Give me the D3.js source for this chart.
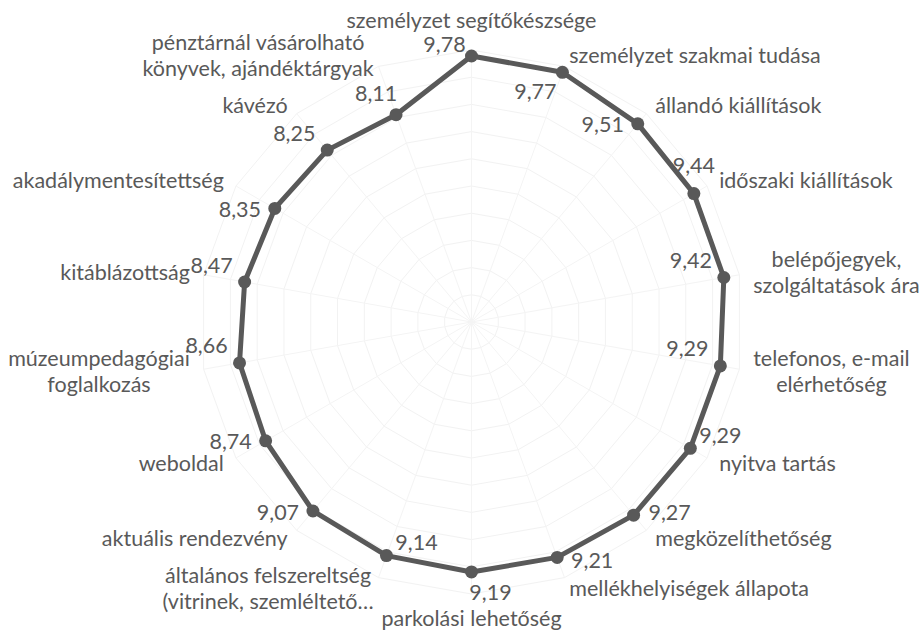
<!DOCTYPE html>
<html>
<head>
<meta charset="utf-8">
<script src="https://cdn.jsdelivr.net/npm/d3@7"></script>
<style>
body{margin:0;background:#fff;}
text{font-family:Lato,"Open Sans",sans-serif;}
</style>
</head>
<body>
<svg id="chart"></svg>
<script>
// categories, clockwise from the top (multi-line labels as arrays)
var categories = [
  ["személyzet segítőkészsége"],
  ["személyzet szakmai tudása"],
  ["állandó kiállítások"],
  ["időszaki kiállítások"],
  ["belépőjegyek,", "szolgáltatások ára"],
  ["telefonos, e-mail", "elérhetőség"],
  ["nyitva tartás"],
  ["megközelíthetőség"],
  ["mellékhelyiségek állapota"],
  ["parkolási lehetőség"],
  ["általános felszereltség", "(vitrinek, szemléltető…"],
  ["aktuális rendezvény"],
  ["weboldal"],
  ["múzeumpedagógiai", "foglalkozás"],
  ["kitáblázottság"],
  ["akadálymentesítettség"],
  ["kávézó"],
  ["pénztárnál vásárolható", "könyvek, ajándéktárgyak"]
];
var values = [9.78, 9.77, 9.51, 9.44, 9.42, 9.29, 9.29, 9.27, 9.21, 9.19,
              9.14, 9.07, 8.74, 8.66, 8.47, 8.35, 8.25, 8.11];
// where each data label sits relative to its point
var valuePos = ["nw","bl","l","t","tl","tl","tr","r","br","b",
                "tr","l","l","tl","tl","l","tl","nnw"];
var gridTicks = [1,2,3,4,5,6,7,8,9,10];

var drawChart = function()
{
  var screen = {width: 922, height: 633};
  var cx = 471.5, cy = 322, R = 272;
  var lh = 26;
  var fs = 21.5;
  var textColor = "#595959";
  var n = categories.length;

  var svg = d3.select("#chart")
      .attr("width", screen.width)
      .attr("height", screen.height);

  var aScale = d3.scaleLinear().domain([0, n]).range([0, 2*Math.PI]);
  var rScale = d3.scaleLinear().domain([0, 10]).range([0, R]);

  var plot = svg.append("g")
      .attr("transform", "translate(" + cx + "," + cy + ")");

  // grid polygons (very faint in the original)
  var idx = d3.range(n);
  var ring = d3.lineRadial()
      .angle(function(i){ return aScale(i); })
      .curve(d3.curveLinearClosed);
  plot.selectAll(".grid")
      .data(gridTicks)
      .enter()
      .append("path")
      .attr("class", "grid")
      .attr("d", function(t){ return ring.radius(rScale(t))(idx); })
      .attr("fill", "none")
      .attr("stroke", "#f2f2f2")
      .attr("stroke-width", 1);
  plot.selectAll(".spoke")
      .data(idx)
      .enter()
      .append("line")
      .attr("class", "spoke")
      .attr("x1", 0).attr("y1", 0)
      .attr("x2", function(i){ return rScale(10)*Math.sin(aScale(i)); })
      .attr("y2", function(i){ return -rScale(10)*Math.cos(aScale(i)); })
      .attr("stroke", "#f4f4f4");

  // data line
  var line = d3.lineRadial()
      .angle(function(d,i){ return aScale(i); })
      .radius(function(d){ return rScale(d); })
      .curve(d3.curveLinearClosed);
  plot.append("path")
      .attr("d", line(values))
      .attr("fill", "none")
      .attr("stroke", "#595959")
      .attr("stroke-width", 5)
      .attr("stroke-linejoin", "round");

  var px = function(i){ return rScale(values[i])*Math.sin(aScale(i)); };
  var py = function(i){ return -rScale(values[i])*Math.cos(aScale(i)); };

  plot.selectAll(".dot")
      .data(values)
      .enter()
      .append("circle")
      .attr("class", "dot")
      .attr("cx", function(d,i){ return px(i); })
      .attr("cy", function(d,i){ return py(i); })
      .attr("r", 6.5)
      .attr("fill", "#595959");

  // value labels
  var offsets = {
    nw: [-27,-12], nnw: [-20,-21], tl: [-33,-17], t: [0,-28], tr: [30,-13],
    l: [-35,1], r: [36,-3], bl: [-27,19], b: [19,21], br: [35,3]
  };
  plot.selectAll(".val")
      .data(values)
      .enter()
      .append("text")
      .attr("class", "val")
      .attr("x", function(d,i){ return px(i) + offsets[valuePos[i]][0]; })
      .attr("y", function(d,i){ return py(i) + offsets[valuePos[i]][1]; })
      .attr("dy", "0.35em")
      .attr("text-anchor", "middle")
      .attr("font-size", fs)
      .attr("fill", textColor)
      .text(function(d){ return d3.format(".2f")(d).replace(".", ","); });

  // category labels
  var pad = 14;
  categories.forEach(function(lines, i)
  {
    var a = aScale(i);
    var s = Math.sin(a), c = Math.cos(a);
    var g = plot.append("text")
        .attr("class", "cat")
        .attr("font-size", fs)
        .attr("fill", textColor)
        .attr("text-anchor", "middle");
    var spans = lines.map(function(t){ return g.append("tspan").text(t); });
    var w = d3.max(spans, function(sp){ return sp.node().getComputedTextLength(); });
    var h = lines.length*lh;
    var midX, midY;
    if (Math.abs(s) > 0.1)
    {
      midX = (R + pad)*s + (s > 0 ? w/2 : -w/2);
      midY = -(R + pad*0.8)*c;
    }
    else
    {
      midX = 0;
      midY = -(R + pad)*c - c*h/2 - 3;
    }
    spans.forEach(function(sp, k)
    {
      sp.attr("x", midX)
        .attr("y", midY - (lines.length-1)*lh/2 + k*lh)
        .attr("dy", "0.35em");
    });
  });
};

drawChart();
</script>
</body>
</html>
